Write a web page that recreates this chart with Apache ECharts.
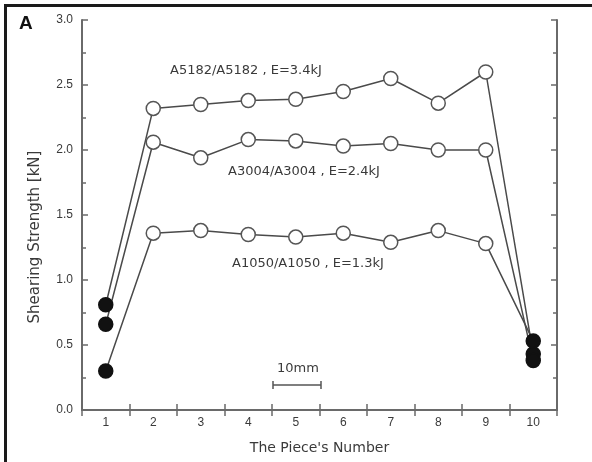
<!DOCTYPE html>
<html>
<head>
<meta charset="utf-8">
<script src="https://cdn.jsdelivr.net/npm/echarts@6/dist/echarts.min.js"></script>
<style>
  html, body { margin: 0; padding: 0; background: #fff; }
  #chart { width: 592px; height: 462px; }
</style>
</head>
<body>
<div id="chart"></div>
<script>
// Piece numbers along the specimen
var pieces = ['1', '2', '3', '4', '5', '6', '7', '8', '9', '10'];

// Shearing strength [kN] for each joint; pieces 1 and 10 are the failed ends
var a5182 = [0.81, 2.32, 2.35, 2.38, 2.39, 2.45, 2.55, 2.36, 2.60, 0.43];
var a3004 = [0.66, 2.06, 1.94, 2.08, 2.07, 2.03, 2.05, 2.00, 2.00, 0.38];
var a1050 = [0.30, 1.36, 1.38, 1.35, 1.33, 1.36, 1.29, 1.38, 1.28, 0.53];

var seriesNames = ['A5182/A5182 , E=3.4kJ', 'A3004/A3004 , E=2.4kJ', 'A1050/A1050 , E=1.3kJ'];
var yTitle = 'Shearing Strength [kN]';
var xTitle = "The Piece's Number";

var font = 'Liberation Sans, Arial, sans-serif';
var wideFont = 'DejaVu Sans, Verdana, sans-serif';
var ink = '#3a3a3a';
var axisGrey = '#6a6a6a';

// End pieces are drawn filled, the rest as open circles
function toPoints(values) {
  return values.map(function (v, i) {
    var end = (i === 0 || i === values.length - 1);
    return {
      value: v,
      itemStyle: end ? { color: '#111', borderColor: '#111' } : { color: '#fff', borderColor: '#555' }
    };
  });
}

function lineSeries(name, values) {
  return {
    name: name,
    type: 'line',
    data: toPoints(values),
    symbol: 'circle',
    symbolSize: 14,
    showAllSymbol: true,
    lineStyle: { color: '#4a4a4a', width: 1.5 },
    itemStyle: { borderWidth: 1.5 },
    emphasis: { disabled: true },
    z: 3
  };
}

var chart = echarts.init(document.getElementById('chart'));

var tickLine = { color: axisGrey, width: 1.5 };

chart.setOption({
  animation: false,
  backgroundColor: '#fff',
  grid: { left: 82, right: 35, top: 20, bottom: 52 },
  xAxis: [{
    type: 'category',
    data: pieces,
    boundaryGap: true,
    position: 'bottom',
    name: xTitle,
    nameLocation: 'middle',
    nameGap: 31,
    nameTextStyle: { fontFamily: wideFont, fontSize: 14, color: ink },
    axisLine: { lineStyle: { color: axisGrey, width: 2 } },
    axisTick: { show: true, inside: true, length: 6, lineStyle: tickLine },
    axisLabel: { fontFamily: font, fontSize: 12, color: ink, margin: 7 },
    splitLine: { show: false }
  }, {
    type: 'category',
    data: pieces,
    boundaryGap: true,
    position: 'top',
    axisLine: { lineStyle: { color: axisGrey, width: 2 } },
    axisTick: { show: true, inside: true, length: 6, lineStyle: tickLine },
    axisLabel: { show: false },
    splitLine: { show: false }
  }],
  yAxis: [{
    type: 'value',
    min: 0,
    max: 3,
    interval: 0.5,
    position: 'left',
    axisLine: { show: true, lineStyle: { color: axisGrey, width: 2 } },
    axisTick: { show: true, inside: true, length: 6, lineStyle: tickLine },
    minorTick: { show: true, splitNumber: 2, length: 4, lineStyle: tickLine },
    axisLabel: {
      fontFamily: font, fontSize: 12, color: ink, margin: 9,
      formatter: function (v) { return v.toFixed(1); }
    },
    splitLine: { show: false }
  }, {
    type: 'value',
    min: 0,
    max: 3,
    interval: 0.5,
    position: 'right',
    axisLine: { show: true, lineStyle: { color: axisGrey, width: 2 } },
    axisTick: { show: true, inside: true, length: 6, lineStyle: tickLine },
    minorTick: { show: true, splitNumber: 2, length: 4, lineStyle: tickLine },
    axisLabel: { show: false },
    splitLine: { show: false }
  }],
  series: [
    lineSeries(seriesNames[0], a5182),
    lineSeries(seriesNames[1], a3004),
    lineSeries(seriesNames[2], a1050)
  ],
  graphic: [
    // panel frame (top and left edges)
    { type: 'line', shape: { x1: 5, y1: 5.5, x2: 592, y2: 5.5 }, style: { stroke: '#1a1a1a', lineWidth: 3 } },
    { type: 'line', shape: { x1: 5.5, y1: 4, x2: 5.5, y2: 462 }, style: { stroke: '#1a1a1a', lineWidth: 3 } },
    // panel letter
    { type: 'text', left: 19, top: 14, style: { text: 'A', font: 'bold 19px ' + font, fill: '#111' } },
    // y-axis title, set a little below the plot's middle
    { type: 'text', x: 35, y: 237, rotation: Math.PI / 2,
      style: { text: yTitle, font: '15px ' + wideFont, fill: ink, align: 'center', verticalAlign: 'middle' } },
    // series labels
    { type: 'text', x: 170, y: 71, style: { text: seriesNames[0], font: '13px ' + wideFont, fill: ink, verticalAlign: 'middle' } },
    { type: 'text', x: 228, y: 172, style: { text: seriesNames[1], font: '13px ' + wideFont, fill: ink, verticalAlign: 'middle' } },
    { type: 'text', x: 232, y: 264, style: { text: seriesNames[2], font: '13px ' + wideFont, fill: ink, verticalAlign: 'middle' } },
    // scale bar
    { type: 'text', x: 277, y: 369, style: { text: '10mm', font: '13px ' + wideFont, fill: ink, verticalAlign: 'middle' } },
    { type: 'line', shape: { x1: 273, y1: 385, x2: 321, y2: 385 }, style: { stroke: '#555', lineWidth: 1.5 } },
    { type: 'line', shape: { x1: 273, y1: 381, x2: 273, y2: 389 }, style: { stroke: '#555', lineWidth: 1.5 } },
    { type: 'line', shape: { x1: 321, y1: 381, x2: 321, y2: 389 }, style: { stroke: '#555', lineWidth: 1.5 } }
  ]
});
</script>
</body>
</html>
